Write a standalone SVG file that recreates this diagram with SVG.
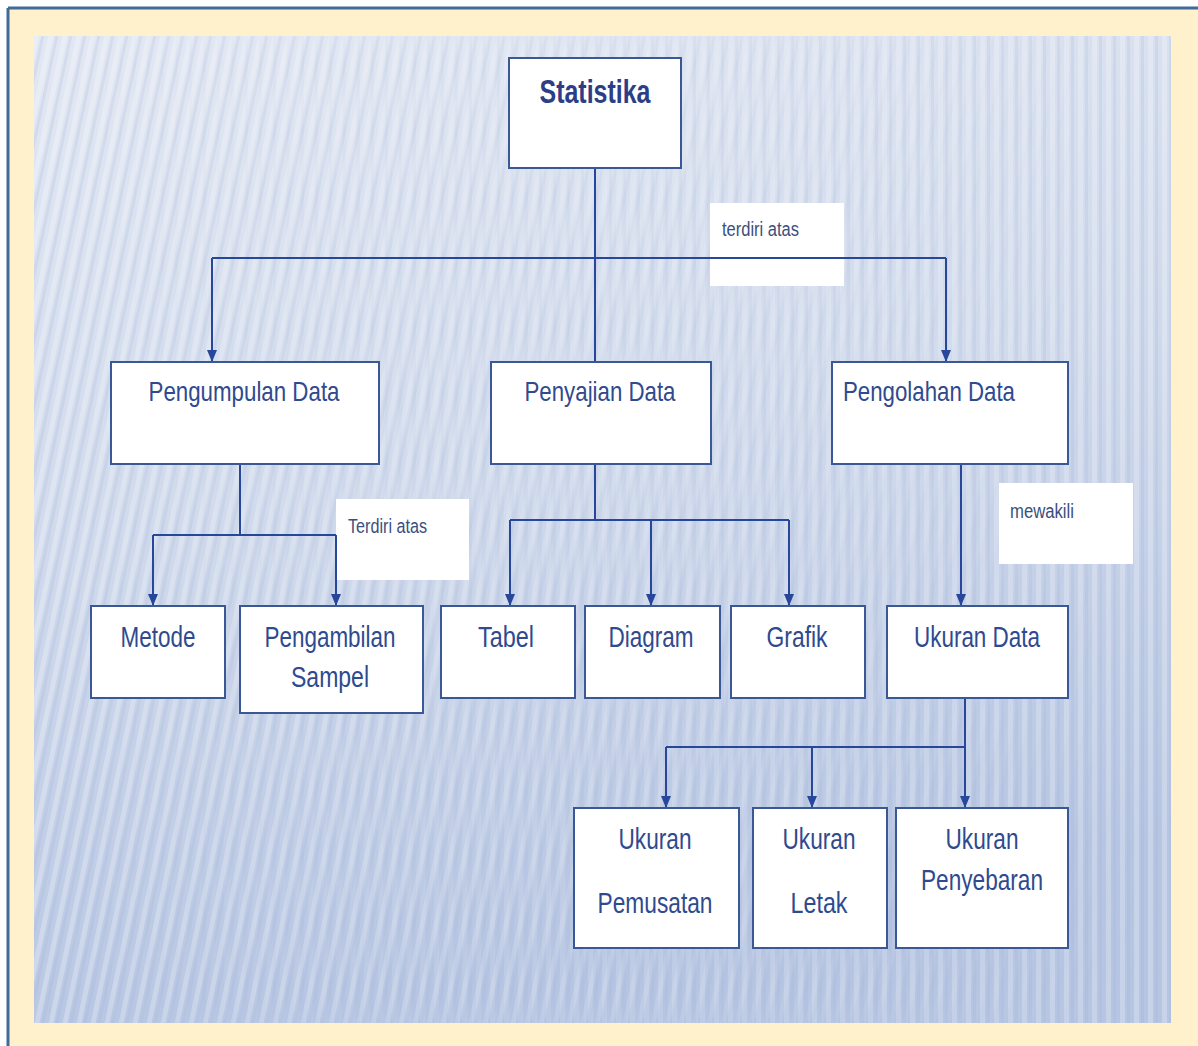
<svg xmlns="http://www.w3.org/2000/svg" width="1198" height="1046" viewBox="0 0 1198 1046">
<defs>
<linearGradient id="bg" x1="0" y1="0" x2="0.25" y2="1">
<stop offset="0" stop-color="#e2e8f3"/>
<stop offset="0.5" stop-color="#d0daec"/>
<stop offset="1" stop-color="#b6c5e2"/>
</linearGradient>
<pattern id="stripes" width="14" height="40" patternUnits="userSpaceOnUse" patternTransform="skewX(-12)">
<rect x="0" y="0" width="5" height="40" fill="#ffffff" opacity="0.28"/>
<rect x="7" y="0" width="3" height="40" fill="#9fb1d6" opacity="0.2"/>
</pattern>
<pattern id="stripesV" width="14" height="40" patternUnits="userSpaceOnUse">
<rect x="0" y="0" width="5" height="40" fill="#ffffff" opacity="0.25"/>
<rect x="7" y="0" width="3" height="40" fill="#9fb1d6" opacity="0.2"/>
</pattern>
<linearGradient id="fadeR" x1="0" y1="0" x2="1" y2="0">
<stop offset="0" stop-color="#fff" stop-opacity="0"/>
<stop offset="1" stop-color="#fff" stop-opacity="1"/>
</linearGradient>
<mask id="mR"><rect x="34" y="36" width="1137" height="987" fill="url(#fadeR)"/></mask>
<linearGradient id="fadeL" x1="0" y1="0" x2="1" y2="0">
<stop offset="0" stop-color="#fff" stop-opacity="1"/>
<stop offset="1" stop-color="#fff" stop-opacity="0"/>
</linearGradient>
<mask id="mL"><rect x="34" y="36" width="1137" height="987" fill="url(#fadeL)"/></mask>
<marker id="arr" viewBox="0 0 12 10" refX="12" refY="5" markerWidth="12" markerHeight="10" markerUnits="userSpaceOnUse" orient="auto">
<path d="M0,0 L12,5 L0,10 Z" fill="#27479a"/>
</marker>
</defs>
<style>
.box{fill:#ffffff;stroke:#3b5896;stroke-width:2}
.lbl{fill:#ffffff}
.t{font-family:"Liberation Sans",Arial,sans-serif;fill:#2f4a8e;text-anchor:middle}
.big{font-size:30px}
.mid{font-size:28px}
.sm{font-family:"Liberation Sans",Arial,sans-serif;fill:#3a4f80;font-size:20px}
.title{font-family:"Liberation Sans",Arial,sans-serif;fill:#2c3f86;font-size:34px;font-weight:bold;text-anchor:middle}
.c{fill:none;stroke:#27479a;stroke-width:2}
</style>
<rect x="0" y="0" width="1198" height="1046" fill="#ffffff"/>
<rect x="8" y="8" width="1190" height="1038" fill="#fff1cc"/>
<line x1="8" y1="8" x2="1198" y2="8" stroke="#41699a" stroke-width="3"/>
<line x1="8" y1="8" x2="8" y2="1046" stroke="#41699a" stroke-width="3"/>
<rect x="34" y="36" width="1137" height="987" fill="url(#bg)"/>
<rect x="34" y="36" width="1137" height="987" fill="url(#stripes)" mask="url(#mL)"/>
<rect x="34" y="36" width="1137" height="987" fill="url(#stripesV)" mask="url(#mR)"/>

<g id="labels">
<g id="lbl-terdiri"><rect class="lbl" x="710" y="203" width="134" height="83"/><text class="sm" x="722" y="236" textLength="77" lengthAdjust="spacingAndGlyphs">terdiri atas</text></g>
<g id="lbl-Terdiri"><rect class="lbl" x="336" y="499" width="133" height="81"/><text class="sm" x="348" y="533" textLength="79" lengthAdjust="spacingAndGlyphs">Terdiri atas</text></g>
<g id="lbl-mewakili"><rect class="lbl" x="999" y="483" width="134" height="81"/><text class="sm" x="1010" y="518" textLength="64" lengthAdjust="spacingAndGlyphs">mewakili</text></g>
</g>

<g id="connectors">
<path class="c" d="M595,168 V362"/>
<path class="c" d="M212,258 H946"/>
<path class="c" d="M212,258 V362" marker-end="url(#arr)"/>
<path class="c" d="M946,258 V362" marker-end="url(#arr)"/>
<path class="c" d="M240,464 V535 M153,535 H336"/>
<path class="c" d="M153,535 V606" marker-end="url(#arr)"/>
<path class="c" d="M336,535 V606" marker-end="url(#arr)"/>
<path class="c" d="M595,464 V520 M510,520 H789"/>
<path class="c" d="M510,520 V606" marker-end="url(#arr)"/>
<path class="c" d="M651,520 V606" marker-end="url(#arr)"/>
<path class="c" d="M789,520 V606" marker-end="url(#arr)"/>
<path class="c" d="M961,464 V606" marker-end="url(#arr)"/>
<path class="c" d="M965,698 V747 M666,747 H965"/>
<path class="c" d="M666,747 V808" marker-end="url(#arr)"/>
<path class="c" d="M812,747 V808" marker-end="url(#arr)"/>
<path class="c" d="M965,747 V808" marker-end="url(#arr)"/>
</g>

<g id="statistika"><rect class="box" x="509" y="58" width="172" height="110"/><text class="title" x="595" y="103" textLength="111" lengthAdjust="spacingAndGlyphs">Statistika</text></g>
<g id="pengumpulan"><rect class="box" x="111" y="362" width="268" height="102"/><text class="t mid" x="244" y="401" textLength="191" lengthAdjust="spacingAndGlyphs">Pengumpulan Data</text></g>
<g id="penyajian"><rect class="box" x="491" y="362" width="220" height="102"/><text class="t mid" x="600" y="401" textLength="151" lengthAdjust="spacingAndGlyphs">Penyajian Data</text></g>
<g id="pengolahan"><rect class="box" x="832" y="362" width="236" height="102"/><text class="t mid" x="929" y="401" textLength="172" lengthAdjust="spacingAndGlyphs">Pengolahan Data</text></g>
<g id="metode"><rect class="box" x="91" y="606" width="134" height="92"/><text class="t big" x="158" y="647" textLength="75" lengthAdjust="spacingAndGlyphs">Metode</text></g>
<g id="sampel"><rect class="box" x="240" y="606" width="183" height="107"/><text class="t big" x="330" y="647" textLength="131" lengthAdjust="spacingAndGlyphs">Pengambilan</text><text class="t big" x="330" y="687" textLength="78" lengthAdjust="spacingAndGlyphs">Sampel</text></g>
<g id="tabel"><rect class="box" x="441" y="606" width="134" height="92"/><text class="t big" x="506" y="647" textLength="56" lengthAdjust="spacingAndGlyphs">Tabel</text></g>
<g id="diagram"><rect class="box" x="585" y="606" width="135" height="92"/><text class="t big" x="651" y="647" textLength="85" lengthAdjust="spacingAndGlyphs">Diagram</text></g>
<g id="grafik"><rect class="box" x="731" y="606" width="134" height="92"/><text class="t big" x="797" y="647" textLength="61" lengthAdjust="spacingAndGlyphs">Grafik</text></g>
<g id="ukurandata"><rect class="box" x="887" y="606" width="181" height="92"/><text class="t big" x="977" y="647" textLength="126" lengthAdjust="spacingAndGlyphs">Ukuran Data</text></g>
<g id="pemusatan"><rect class="box" x="574" y="808" width="165" height="140"/><text class="t big" x="655" y="849" textLength="73" lengthAdjust="spacingAndGlyphs">Ukuran</text><text class="t big" x="655" y="913" textLength="115" lengthAdjust="spacingAndGlyphs">Pemusatan</text></g>
<g id="letak"><rect class="box" x="753" y="808" width="134" height="140"/><text class="t big" x="819" y="849" textLength="73" lengthAdjust="spacingAndGlyphs">Ukuran</text><text class="t big" x="819" y="913" textLength="57" lengthAdjust="spacingAndGlyphs">Letak</text></g>
<g id="penyebaran"><rect class="box" x="896" y="808" width="172" height="140"/><text class="t big" x="982" y="849" textLength="73" lengthAdjust="spacingAndGlyphs">Ukuran</text><text class="t big" x="982" y="890" textLength="122" lengthAdjust="spacingAndGlyphs">Penyebaran</text></g>
</svg>
